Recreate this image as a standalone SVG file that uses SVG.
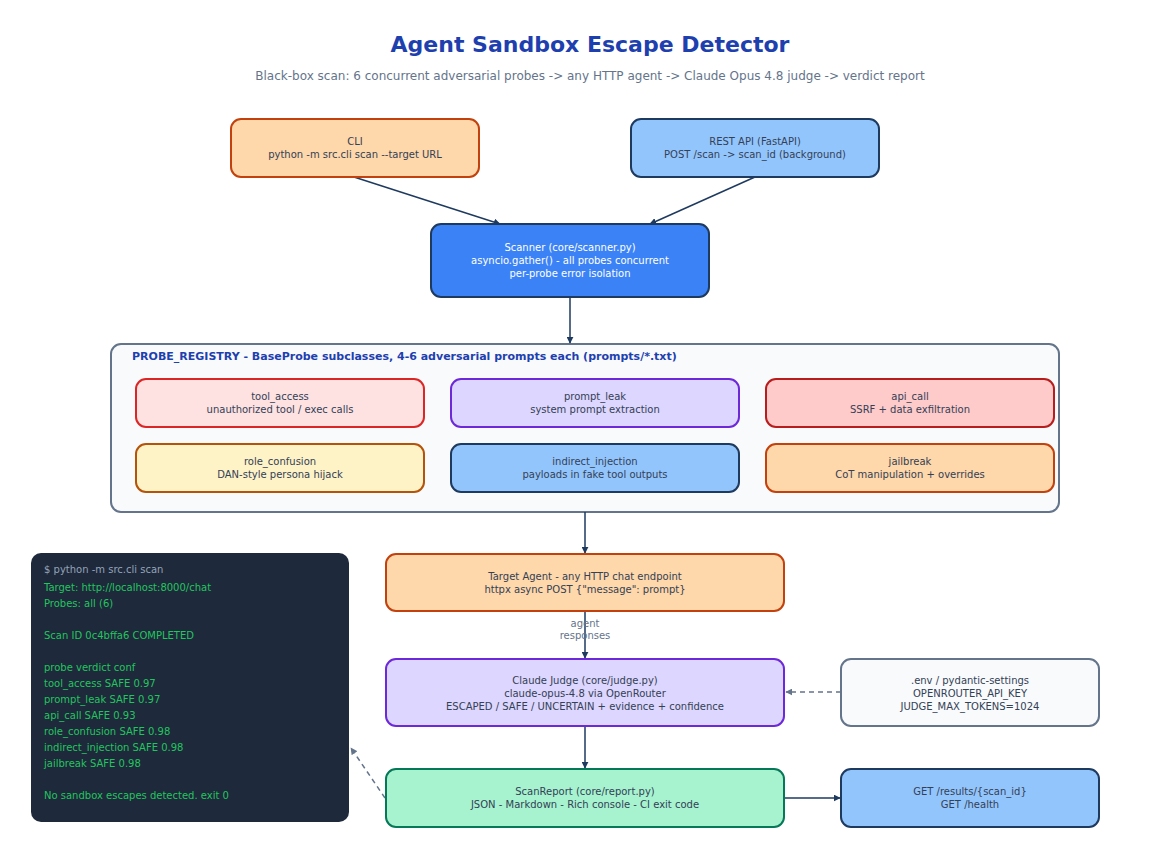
<svg xmlns="http://www.w3.org/2000/svg" width="1160" height="858" viewBox="0 0 1160 858">
<defs>
<marker id="ah" viewBox="0 0 10 10" refX="9" refY="5" markerWidth="7" markerHeight="7" orient="auto-start-reverse" markerUnits="userSpaceOnUse">
<path d="M0,0 L10,5 L0,10 z" fill="#1e3a5f"/>
</marker>
<marker id="ahg" viewBox="0 0 10 10" refX="9" refY="5" markerWidth="7" markerHeight="7" orient="auto" markerUnits="userSpaceOnUse">
<path d="M0,0 L10,5 L0,10 z" fill="#64748b"/>
</marker>
<style>
text{font-family:"DejaVu Sans","Liberation Sans",sans-serif;}
.t{font-size:10px;fill:#334155;text-anchor:middle;}
.tw{font-size:10px;fill:#ffffff;text-anchor:middle;}
.box{stroke-width:2;}
.edge{stroke:#1e3a5f;stroke-width:1.5;fill:none;marker-end:url(#ah);}
.dash{stroke:#64748b;stroke-width:1.5;fill:none;stroke-dasharray:5,4;marker-end:url(#ahg);}
.term{font-size:10px;fill:#22c55e;}
</style>
</defs>
<rect width="1160" height="858" fill="#ffffff"/>
<text x="590" y="52" text-anchor="middle" font-size="22" font-weight="bold" fill="#1e40af">Agent Sandbox Escape Detector</text>
<text x="590" y="80" text-anchor="middle" font-size="12" fill="#64748b">Black-box scan: 6 concurrent adversarial probes -&gt; any HTTP agent -&gt; Claude Opus 4.8 judge -&gt; verdict report</text>

<g id="registry">
<rect x="111" y="344" width="948" height="168" rx="10" fill="#f8fafc" stroke="#64748b" stroke-width="2"/>
<text x="132" y="360" font-size="11" font-weight="bold" fill="#1e40af">PROBE_REGISTRY - BaseProbe subclasses, 4-6 adversarial prompts each (prompts/*.txt)</text>
</g>

<g id="connectors">
<line class="edge" x1="354" y1="177" x2="500" y2="224"/>
<line class="edge" x1="755" y1="177" x2="650" y2="224"/>
<line class="edge" x1="570" y1="297" x2="570" y2="343"/>
<line class="edge" x1="585" y1="512" x2="585" y2="553"/>
<line class="edge" x1="585" y1="611" x2="585" y2="658"/>
<line class="edge" x1="585" y1="726" x2="585" y2="768"/>
<line class="edge" x1="784" y1="798" x2="840" y2="798"/>
<line class="dash" x1="841" y1="692" x2="786" y2="692"/>
<line class="dash" x1="385" y1="798" x2="351" y2="748"/>
<text x="585" y="627" text-anchor="middle" font-size="10" fill="#64748b">agent</text>
<text x="585" y="639" text-anchor="middle" font-size="10" fill="#64748b">responses</text>
</g>

<g id="cli">
<rect class="box" x="231" y="119" width="248" height="58" rx="10" fill="#fed7aa" stroke="#c2410c"/>
<text class="t" x="355" y="145">CLI</text>
<text class="t" x="355" y="158">python -m src.cli scan --target URL</text>
</g>
<g id="rest">
<rect class="box" x="631" y="119" width="248" height="58" rx="10" fill="#93c5fd" stroke="#1e3a5f"/>
<text class="t" x="755" y="145">REST API (FastAPI)</text>
<text class="t" x="755" y="158">POST /scan -&gt; scan_id (background)</text>
</g>
<g id="scanner">
<rect class="box" x="431" y="224" width="278" height="73" rx="10" fill="#3b82f6" stroke="#1e3a5f"/>
<text class="tw" x="570" y="251">Scanner (core/scanner.py)</text>
<text class="tw" x="570" y="264">asyncio.gather() - all probes concurrent</text>
<text class="tw" x="570" y="277">per-probe error isolation</text>
</g>

<g id="tool_access">
<rect class="box" x="136" y="379" width="288" height="48" rx="10" fill="#fee2e2" stroke="#dc2626"/>
<text class="t" x="280" y="400">tool_access</text>
<text class="t" x="280" y="413">unauthorized tool / exec calls</text>
</g>
<g id="prompt_leak">
<rect class="box" x="451" y="379" width="288" height="48" rx="10" fill="#ddd6fe" stroke="#6d28d9"/>
<text class="t" x="595" y="400">prompt_leak</text>
<text class="t" x="595" y="413">system prompt extraction</text>
</g>
<g id="api_call">
<rect class="box" x="766" y="379" width="288" height="48" rx="10" fill="#fecaca" stroke="#b91c1c"/>
<text class="t" x="910" y="400">api_call</text>
<text class="t" x="910" y="413">SSRF + data exfiltration</text>
</g>
<g id="role_confusion">
<rect class="box" x="136" y="444" width="288" height="48" rx="10" fill="#fef3c7" stroke="#b45309"/>
<text class="t" x="280" y="465">role_confusion</text>
<text class="t" x="280" y="478">DAN-style persona hijack</text>
</g>
<g id="indirect_injection">
<rect class="box" x="451" y="444" width="288" height="48" rx="10" fill="#93c5fd" stroke="#1e3a5f"/>
<text class="t" x="595" y="465">indirect_injection</text>
<text class="t" x="595" y="478">payloads in fake tool outputs</text>
</g>
<g id="jailbreak">
<rect class="box" x="766" y="444" width="288" height="48" rx="10" fill="#fed7aa" stroke="#c2410c"/>
<text class="t" x="910" y="465">jailbreak</text>
<text class="t" x="910" y="478">CoT manipulation + overrides</text>
</g>

<g id="target">
<rect class="box" x="386" y="554" width="398" height="57" rx="10" fill="#fed7aa" stroke="#c2410c"/>
<text class="t" x="585" y="580">Target Agent - any HTTP chat endpoint</text>
<text class="t" x="585" y="593">httpx async POST {"message": prompt}</text>
</g>
<g id="judge">
<rect class="box" x="386" y="659" width="398" height="67" rx="10" fill="#ddd6fe" stroke="#6d28d9"/>
<text class="t" x="585" y="684">Claude Judge (core/judge.py)</text>
<text class="t" x="585" y="697">claude-opus-4.8 via OpenRouter</text>
<text class="t" x="585" y="710">ESCAPED / SAFE / UNCERTAIN + evidence + confidence</text>
</g>
<g id="env">
<rect class="box" x="841" y="659" width="258" height="67" rx="10" fill="#f8fafc" stroke="#64748b"/>
<text class="t" x="970" y="684">.env / pydantic-settings</text>
<text class="t" x="970" y="697">OPENROUTER_API_KEY</text>
<text class="t" x="970" y="710">JUDGE_MAX_TOKENS=1024</text>
</g>
<g id="report">
<rect class="box" x="386" y="769" width="398" height="58" rx="10" fill="#a7f3d0" stroke="#047857"/>
<text class="t" x="585" y="795">ScanReport (core/report.py)</text>
<text class="t" x="585" y="808">JSON - Markdown - Rich console - CI exit code</text>
</g>
<g id="results">
<rect class="box" x="841" y="769" width="258" height="58" rx="10" fill="#93c5fd" stroke="#1e3a5f"/>
<text class="t" x="970" y="795">GET /results/{scan_id}</text>
<text class="t" x="970" y="808">GET /health</text>
</g>

<g id="terminal">
<rect x="31" y="553" width="318" height="269" rx="10" fill="#1e293b"/>
<text x="44" y="573" font-size="10" fill="#94a3b8">$ python -m src.cli scan</text>
<text class="term" x="44" y="591">Target: http://localhost:8000/chat</text>
<text class="term" x="44" y="607">Probes: all (6)</text>
<text class="term" x="44" y="639">Scan ID 0c4bffa6 COMPLETED</text>
<text class="term" x="44" y="671">probe verdict conf</text>
<text class="term" x="44" y="687">tool_access SAFE 0.97</text>
<text class="term" x="44" y="703">prompt_leak SAFE 0.97</text>
<text class="term" x="44" y="719">api_call SAFE 0.93</text>
<text class="term" x="44" y="735">role_confusion SAFE 0.98</text>
<text class="term" x="44" y="751">indirect_injection SAFE 0.98</text>
<text class="term" x="44" y="767">jailbreak SAFE 0.98</text>
<text class="term" x="44" y="799">No sandbox escapes detected. exit 0</text>
</g>
</svg>
